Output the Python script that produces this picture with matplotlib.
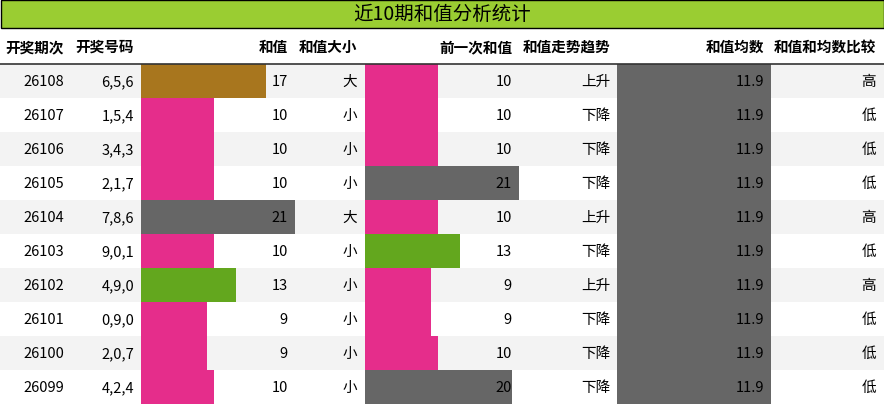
import matplotlib.pyplot as plt
from matplotlib.patches import Rectangle

plt.rcParams['font.family'] = ['Noto Sans CJK SC', 'DejaVu Sans']

# 数据
periods = ['26108', '26107', '26106', '26105', '26104', '26103', '26102', '26101', '26100', '26099']
numbers = ['6,5,6', '1,5,4', '3,4,3', '2,1,7', '7,8,6', '9,0,1', '4,9,0', '0,9,0', '2,0,7', '4,2,4']
sums = [17, 10, 10, 10, 21, 10, 13, 9, 9, 10]
size_lbl = ['大', '小', '小', '小', '大', '小', '小', '小', '小', '小']
prev_sums = [10, 10, 10, 21, 10, 13, 9, 9, 10, 20]
trend = ['上升', '下降', '下降', '下降', '上升', '下降', '上升', '下降', '下降', '下降']
avg = [11.9] * 10
compare = ['高', '低', '低', '低', '高', '低', '高', '低', '低', '低']
headers = ['开奖期次', '开奖号码', '和值', '和值大小', '前一次和值', '和值走势趋势', '和值均数', '和值和均数比较']

def bar_color(v):
    if v >= 20:
        return '#666666'
    if v >= 17:
        return '#a8761e'
    if v >= 13:
        return '#63a71e'
    return '#e52d8b'

W, H = 884, 406
fig = plt.figure(figsize=(W / 100, H / 100), dpi=100)
ax = fig.add_axes([0, 0, 1, 1])
ax.set_xlim(0, W)
ax.set_ylim(H, 0)
ax.axis('off')

# 标题
ax.add_patch(Rectangle((0.5, 0.5), W - 1, 28, facecolor='#9acd32', edgecolor='black', lw=1))
ax.text(W / 2, 15, '近10期和值分析统计', ha='center', va='center', fontsize=14)

# 表头
hx = [64, 134, 288, 357, 512, 610, 764, 876]
for x, h in zip(hx, headers):
    ax.text(x, 47, h, ha='right', va='center', fontsize=10.5, fontweight='bold')
ax.plot([0, W], [64.5, 64.5], color='#333333', lw=1.2)

top, rh = 65, 34
ys = [top + i * rh + rh / 2 for i in range(10)]
for i, y in enumerate(ys):
    if i % 2 == 0:
        ax.add_patch(Rectangle((0, y - rh / 2), W, rh, facecolor='#f3f3f3', lw=0))

px = 154 / 21
ax.barh(ys, [v * px for v in sums], left=141, height=rh, color=[bar_color(v) for v in sums])
ax.barh(ys, [v * px for v in prev_sums], left=365, height=rh, color=[bar_color(v) for v in prev_sums])
ax.barh(ys, [v * 154 / 11.9 for v in avg], left=617, height=rh, color='#666666')

for i, y in enumerate(ys):
    kw = dict(ha='right', va='center', fontsize=10.5)
    ax.text(64, y, periods[i], **kw)
    ax.text(134, y, numbers[i], **kw)
    ax.text(288, y, str(sums[i]), **kw)
    ax.text(357, y, size_lbl[i], **kw)
    ax.text(512, y, str(prev_sums[i]), **kw)
    ax.text(610, y, trend[i], **kw)
    ax.text(764, y, f'{avg[i]:.1f}', **kw)
    ax.text(876, y, compare[i], **kw)

fig.savefig('out.png', dpi=100)
